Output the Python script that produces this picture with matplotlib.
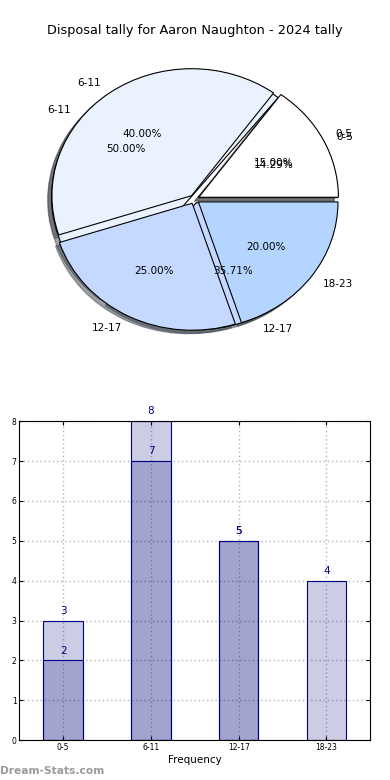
import matplotlib.pyplot as plt
import numpy as np

# data
groups = ['0-5', '6-11', '12-17', '18-23']
tally_a = [3, 8, 5, 4]
groups_b = ['0-5', '6-11', '12-17']
tally_b = [2, 7, 5]
pie_colors = ['#FFFFFF', '#EBF2FF', '#C5D8FF', '#B3D5FF']

fig = plt.figure(figsize=(3.9, 7.8), dpi=100)

# pie part - two tallies drawn on the same axes
ax1 = fig.add_axes([0.051, 0.541, 0.895, 0.407])
w2, t2, p2 = ax1.pie(tally_b, labels=groups_b, colors=pie_colors[:3], autopct='%1.2f%%',
                     explode=[0.03] * 3, shadow=True, startangle=0,
                     wedgeprops={'edgecolor': 'black', 'linewidth': 0.8})
w1, t1, p1 = ax1.pie(tally_a, labels=groups, colors=pie_colors, autopct='%1.2f%%',
                     explode=[0.035] * 4, shadow=True, startangle=0,
                     wedgeprops={'edgecolor': 'black', 'linewidth': 0.8})
for t in t1 + t2 + p1 + p2:
    t.set_fontsize(7.5)
ax1.set_aspect('auto')
ax1.set_xlim(-1.25, 1.25)
ax1.set_ylim(-1.25, 1.25)
fig.text(0.5, 0.961, 'Disposal tally for Aaron Naughton - 2024 tally', ha='center',
         va='center', fontsize=9.3)

# bar part
ax2 = fig.add_axes([0.0495, 0.051, 0.9, 0.409])
x = np.arange(len(groups))
width = 0.45
ax2.bar(x, tally_a, width, facecolor=(0, 0, 0.5, 0.2), edgecolor='navy', linewidth=0.8,
        zorder=2)
ax2.bar(x[:len(tally_b)], tally_b, width, facecolor=(0, 0, 0.5, 0.2), edgecolor='navy',
        linewidth=0.8, zorder=2)
for xi, v in zip(x, tally_a):
    ax2.text(xi, v + 0.12, str(v), ha='center', va='bottom', color='navy', fontsize=7.5)
for xi, v in zip(x, tally_b):
    ax2.text(xi, v + 0.12, str(v), ha='center', va='bottom', color='navy', fontsize=7.5)

ax2.set_xlim(-0.5, 3.5)
ax2.set_ylim(0, 8)
ax2.set_xticks(x)
ax2.set_xticklabels(groups)
ax2.set_yticks(range(9))
ax2.tick_params(labelsize=5.5, direction='in', top=True, right=True, length=3, pad=2)
ax2.grid(True, linestyle=(0, (1, 2)), color='#b5b5b5', linewidth=1.0)
ax2.set_axisbelow('line')
ax2.set_xlabel('Frequency', fontsize=7.5, labelpad=2)

fig.text(0.0, 0.012, 'Dream-Stats.com', color='#9a9a9a', fontsize=7.7, fontweight='bold',
         ha='left', va='center')

plt.savefig('out.png', dpi=100)
